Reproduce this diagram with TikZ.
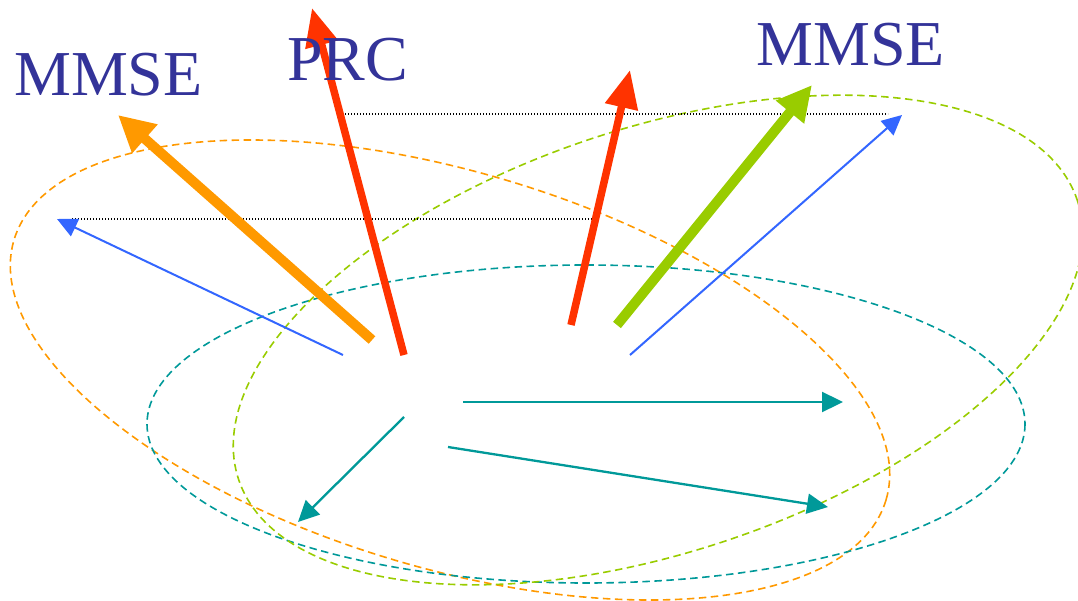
\documentclass[tikz,border=0pt]{standalone}
\usepackage{fontspec}
\setmainfont{Liberation Serif}
\usetikzlibrary{arrows.meta}

\definecolor{labelblue}{HTML}{333399}
\definecolor{ampOrange}{HTML}{FF9900}
\definecolor{ampRed}{HTML}{FF3300}
\definecolor{ampGreen}{HTML}{99CC00}
\definecolor{ampBlue}{HTML}{3366FF}
\definecolor{ampTeal}{HTML}{009999}

\tikzset{
	ring/.style={line width=1.6pt, dash pattern=on 7.5pt off 4.5pt},
	levelline/.style={line width=1.1pt, dash pattern=on 1.1pt off 1.9pt},
	fat/.style={line width=10pt, -{Triangle[length=36pt, width=36pt]}},
	slim/.style={line width=2pt, -{Triangle[length=20pt, width=19pt]}},
	chan/.style={line width=2.3pt, -{Triangle[length=21pt, width=20pt]}},
	caption/.style={text=labelblue, font=\fontsize{64}{64}\selectfont, inner sep=0pt, anchor=base west}
}

\begin{document}
\begin{tikzpicture}[x=1pt, y=-1pt]
	\useasboundingbox (0, 0) rectangle (1078, 601);
	% Regions:
	\draw[ring, ampOrange, rotate around={-16.6:(450, 370)}] (450, 370) ellipse [x radius=455, y radius=198];
	\draw[ring, ampTeal] (586, 424) ellipse [x radius=439, y radius=159];
	\draw[ring, ampGreen, rotate around={18.4:(658, 340)}] (658, 340) ellipse [x radius=442, y radius=212];
	% Levels:
	\coordinate (L1a) at (345, 114);
	\coordinate (L1b) at (888, 114);
	\coordinate (L2a) at (72, 219);
	\coordinate (L2b) at (598, 219);
	\draw[levelline] (L1a) -- (L1b);
	\draw[levelline] (L2a) -- (L2b);
	% Vectors:
	\coordinate (O0) at (372, 340);
	\coordinate (O1) at (118, 115);
	\coordinate (R0) at (404, 355);
	\coordinate (R1) at (312, 8);
	\coordinate (S0) at (571, 325);
	\coordinate (S1) at (630, 70);
	\coordinate (G0) at (617, 325);
	\coordinate (G1) at (812, 85);
	\coordinate (B0) at (343, 355);
	\coordinate (B1) at (57, 219);
	\coordinate (C0) at (630, 355);
	\coordinate (C1) at (902, 115);
	\coordinate (T0) at (463, 402);
	\coordinate (T1) at (843, 402);
	\coordinate (U0) at (448, 447);
	\coordinate (U1) at (828, 507);
	\coordinate (V0) at (404, 417);
	\coordinate (V1) at (298, 522);
	\draw[slim, ampBlue] (B0) -- (B1);
	\draw[slim, ampBlue] (C0) -- (C1);
	\draw[fat, ampOrange] (O0) -- (O1);
	\draw[fat, ampRed, line width=7.5pt, -{Triangle[length=38pt, width=32pt]}] (R0) -- (R1);
	\draw[fat, ampRed, line width=7.5pt, -{Triangle[length=38pt, width=32pt]}] (S0) -- (S1);
	\draw[fat, ampGreen, -{Triangle[length=35pt, width=34pt]}] (G0) -- (G1);
	\draw[chan, ampTeal] (T0) -- (T1);
	\draw[chan, ampTeal] (U0) -- (U1);
	\draw[chan, ampTeal] (V0) -- (V1);
	% Labels:
	\node[caption] (mmseL) at (14, 96) {MMSE};
	\node[caption] (prc) at (287, 81) {PRC};
	\node[caption] (mmseR) at (756, 66) {MMSE};
\end{tikzpicture}
\end{document}
